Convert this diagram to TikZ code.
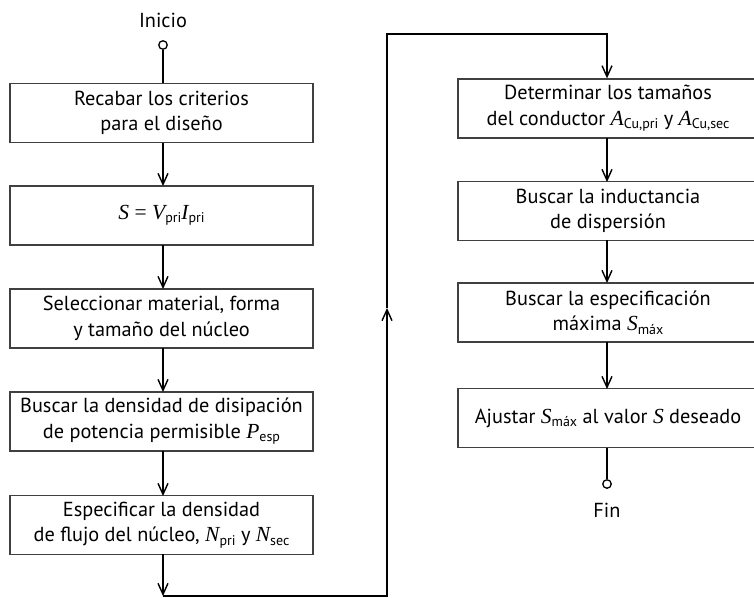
\documentclass[tikz,border=0pt]{standalone}
\usepackage{fontspec}
\setmainfont{PT Sans}
\newfontfamily\serfont{Liberation Serif}
\usetikzlibrary{arrows.meta}
\newcommand\vv[1]{{\serfont\itshape\fontsize{21.5}{25}\selectfont #1}}
\newcommand\sbs[1]{\raisebox{-0.35ex}{\fontsize{14}{14}\selectfont #1}}
\begin{document}
\begin{tikzpicture}[x=1pt,y=-1pt,
  box/.style={draw=black!75,line width=1.3pt,minimum height=59pt,align=center,inner sep=0pt,
    font=\fontsize{20.3}{25.5}\selectfont},
  lbox/.style={box,minimum width=303pt},
  rbox/.style={box,minimum width=310pt},
  conn/.style={line width=2.1pt,black},
  arr/.style={conn,-{Straight Barb[length=11pt,width=10pt,line width=1.4pt]}},
  term/.style={circle,draw,line width=1.3pt,inner sep=0pt,minimum size=8.5pt,fill=white},
  lbl/.style={font=\fontsize{20.3}{25}\selectfont}]
\useasboundingbox (0,0) rectangle (754,597);
% left column
\node[lbl] (tini) at (163,20) {Inicio};
\node[term] (ini) at (163,45) {};
\node[lbox] (b1) at (161.5,113) {Recabar los criterios\\para el diseño};
\node[lbox] (b2) at (161.5,215.5) {\vv{S} {\serfont\fontsize{21.5}{25}\selectfont =} \vv{V}\sbs{pri}\vv{I}\sbs{pri}};
\node[lbox] (b3) at (161.5,318.5) {Seleccionar material, forma\\y tamaño del núcleo};
\node[lbox] (b4) at (161.5,421.5) {Buscar la densidad de disipación\\de potencia permisible \vv{P}\sbs{esp}};
\node[lbox] (b5) at (161.5,525) {Especificar la densidad\\de flujo del núcleo, \vv{N}\sbs{pri} y \vv{N}\sbs{sec}};
% right column
\node[rbox] (b6) at (613,108.5) {\hspace*{-10pt}Determinar los tamaños\\\hspace*{-10pt}del conductor \vv{A}\sbs{Cu,pri} y \vv{A}\sbs{Cu,sec}};
\node[rbox] (b7) at (613,211) {\hspace*{-10pt}Buscar la inductancia\\\hspace*{-10pt}de dispersión};
\node[rbox] (b8) at (613,312.5) {\hspace*{-10pt}Buscar la especificación\\\hspace*{-10pt}máxima \vv{S}\sbs{máx}};
\node[rbox] (b9) at (613,418) {\hspace*{-10pt}Ajustar \vv{S}\sbs{máx} al valor \vv{S} deseado};
\node[term] (fin) at (607,484) {};
\node[lbl] (tfin) at (607,510) {Fin};
% coordinates of the loop
\coordinate (c1) at (163,596);
\coordinate (c2) at (387,596);
\coordinate (cm) at (387,308);
\coordinate (c3) at (387,34);
\coordinate (c4) at (607,34);
% connectors
\draw[conn] (ini) -- (ini |- b1.north);
\draw[arr] (163,143) -- (163,186);
\draw[arr] (163,245) -- (163,289);
\draw[arr] (163,348) -- (163,392);
\draw[arr] (163,451) -- (163,496);
\draw[arr] (163,554) -- (c1);
\draw[arr] (c1) -- (c2) -- (cm);
\draw[conn] (cm) -- (c3) -- (c4) -- (607,60);
\draw[arr] (c4) -- (c4 |- b6.north);
\draw[arr] (607,138) -- (607,182);
\draw[arr] (607,240) -- (607,283);
\draw[arr] (607,342) -- (607,389);
\draw[conn] (607,447.5) -- (fin);
\end{tikzpicture}
\end{document}
